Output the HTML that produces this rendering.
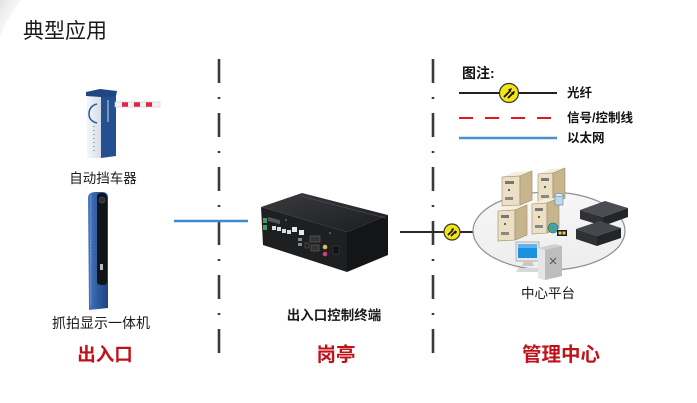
<!DOCTYPE html>
<html><head><meta charset="utf-8">
<style>
html,body{margin:0;padding:0;background:#fff;}
body{width:697px;height:403px;overflow:hidden;position:relative;}
svg{position:absolute;left:0;top:0;}
text{font-family:"Liberation Sans","Noto Sans CJK SC",sans-serif;}
</style></head>
<body>
<svg width="697" height="403" viewBox="0 0 697 403" xmlns="http://www.w3.org/2000/svg">
<defs>
  <linearGradient id="tl" x1="0" y1="0" x2="1" y2="1">
    <stop offset="0" stop-color="#e2e2e2"/>
    <stop offset="1" stop-color="#ffffff" stop-opacity="0"/>
  </linearGradient>
  <linearGradient id="devTop" x1="0" y1="0" x2="1" y2="1">
    <stop offset="0" stop-color="#3a3b3e"/>
    <stop offset="1" stop-color="#1c1d1f"/>
  </linearGradient>
  <linearGradient id="post" x1="0" y1="0" x2="1" y2="0">
    <stop offset="0" stop-color="#4a78bf"/>
    <stop offset="0.5" stop-color="#2d5aa0"/>
    <stop offset="1" stop-color="#1f4580"/>
  </linearGradient>
  <linearGradient id="gateFront" x1="0" y1="0" x2="1" y2="0">
    <stop offset="0" stop-color="#f4f6f9"/>
    <stop offset="1" stop-color="#d7dee8"/>
  </linearGradient>
  <linearGradient id="ell" x1="0" y1="0" x2="0" y2="1">
    <stop offset="0" stop-color="#f7f7f7"/>
    <stop offset="1" stop-color="#ededed"/>
  </linearGradient>
</defs>

<!-- faint top-left swoosh -->
<path d="M0,0 L22,0 Q6,18 0,38 Z" fill="url(#tl)"/>

<!-- title -->
<text x="23" y="38" font-size="21" fill="#1a1a1a">典型应用</text>

<!-- dash-dot separators -->
<line x1="219" y1="59" x2="219" y2="356" stroke="#3a3a3a" stroke-width="2.6" stroke-dasharray="24 14 2 14"/>
<line x1="433" y1="59" x2="433" y2="356" stroke="#3a3a3a" stroke-width="2.6" stroke-dasharray="24 14 2 14"/>

<!-- blue ethernet line -->
<line x1="174" y1="221" x2="248" y2="221" stroke="#3d8ccf" stroke-width="2.6"/>

<!-- fiber line -->
<line x1="400" y1="232" x2="474" y2="232" stroke="#2a2a2a" stroke-width="2"/>

<!-- ========== Barrier gate ========== -->
<g>
  <rect x="87" y="95" width="14" height="63" fill="url(#gateFront)"/>
  <polygon points="101,94 116,92 116,156 101,158" fill="#24508f"/>
  <polygon points="86,92 100,89 117,91 116,96 101,97 86,96" fill="#1d4682"/>
  <path d="M97,104 Q89,106 89,114 Q89,121 97,123" fill="none" stroke="#2d5aa0" stroke-width="1.5"/>
  <line x1="94" y1="126" x2="94" y2="152" stroke="#5a6f90" stroke-width="1" stroke-dasharray="1 3"/>
  <line x1="108" y1="100" x2="108" y2="122" stroke="#c9d6ea" stroke-width="1"/>
  <rect x="115" y="102" width="45" height="5" fill="#f2f2f2" stroke="#c8c8c8" stroke-width="0.6"/>
  <rect x="122" y="102.3" width="6" height="4.4" fill="#e0244a"/>
  <rect x="134" y="102.3" width="6" height="4.4" fill="#e0244a"/>
  <rect x="146" y="102.3" width="6" height="4.4" fill="#e0244a"/>
</g>
<text x="103" y="183" font-size="13.5" fill="#1a1a1a" text-anchor="middle">自动挡车器</text>

<!-- ========== Camera post ========== -->
<g>
  <path d="M88,198 Q88,192 96,192 L102,192 Q108,192 108,198 L108,308 L89,310 Z" fill="url(#post)"/>
  <path d="M97,197 Q97,193 102,193 Q107,193 107,198 L107,282 Q107,285 102,285 Q97,285 97,282 Z" fill="#111418"/>
  <circle cx="102" cy="200" r="3" fill="#2a2e36" stroke="#555" stroke-width="0.6"/>
  <rect x="100" y="264" width="3" height="6" fill="#bbb"/>
  <line x1="91" y1="240" x2="91" y2="262" stroke="#9fb7dc" stroke-width="0.8" stroke-dasharray="1 2"/>
  <rect x="90" y="195" width="1.4" height="110" fill="#6e98d6" opacity="0.6"/>
</g>
<text x="101" y="328" font-size="14" fill="#1a1a1a" text-anchor="middle">抓拍显示一体机</text>

<!-- ========== Control terminal device ========== -->
<g>
  <polygon points="261,207 302,193 388,215 347,232" fill="url(#devTop)"/>
  <polygon points="261,207 347,232 347,272 263,245" fill="#1e1f21"/>
  <polygon points="347,232 388,215 388,255 347,272" fill="#141516"/>
  <line x1="300" y1="196" x2="386" y2="218" stroke="#4a4b4e" stroke-width="0.8"/>
  <!-- ports -->
  <rect x="263" y="218" width="4" height="5" fill="#3fa060"/>
  <rect x="263" y="225" width="4" height="5" fill="#3fa060"/>
  <rect x="268" y="216" width="12" height="4" fill="#555" transform="skewY(16) translate(0,-76)"/>
  <rect x="272" y="226" width="4" height="4" fill="#ddd"/>
  <rect x="277" y="227" width="4" height="4" fill="#ddd"/>
  <rect x="282" y="229" width="4" height="4" fill="#ddd"/>
  <rect x="287" y="230" width="4" height="4" fill="#ddd"/>
  <rect x="292" y="227" width="5" height="5" fill="#e8e8e8"/>
  <rect x="299" y="230" width="5" height="5" fill="#e8e8e8"/>
  <rect x="298" y="238" width="4" height="3" fill="#888"/>
  <rect x="298" y="243" width="4" height="3" fill="#888"/>
  <rect x="310" y="236" width="10" height="6" fill="#333" stroke="#666" stroke-width="0.6"/>
  <rect x="311" y="245" width="8" height="6" fill="#333" stroke="#666" stroke-width="0.6"/>
  <rect x="305" y="243" width="4" height="5" fill="#222" stroke="#666" stroke-width="0.5"/>
  <circle cx="325" cy="247" r="2.3" fill="#c8c850"/>
  <circle cx="325" cy="254" r="2.3" fill="#d04080"/>
  <rect x="333" y="246" width="6" height="8" fill="#111" stroke="#444" stroke-width="0.5"/>
  <circle cx="286" cy="220" r="0.9" fill="#777"/>
  <circle cx="330" cy="233" r="0.9" fill="#777"/>
</g>
<text x="334" y="320" font-size="13.5" font-weight="bold" fill="#1a1a1a" text-anchor="middle">出入口控制终端</text>

<!-- ========== fiber symbol on line ========== -->
<g transform="translate(452,232)">
  <circle r="8" fill="#f2e415" stroke="#333" stroke-width="1.2"/>
  <path d="M-4,3 L1,-2 M-1,4 L4,-1" stroke="#111" stroke-width="1.6"/>
  <path d="M2,-4 L-1,-3 L1,-1 Z M5,-1 L2,0 L4,2 Z" fill="#111"/>
</g>

<!-- ========== Center platform ========== -->
<ellipse cx="549" cy="231" rx="76" ry="39" fill="url(#ell)" stroke="#8f8f8f" stroke-width="1.2"/>

<!-- server A -->
<g>
  <polygon points="502,177 520,176 532,171 514,172" fill="#f5eedc"/>
  <polygon points="502,177 520,176 520,205 502,206" fill="#ebe0c4" stroke="#9c8c6a" stroke-width="0.6"/>
  <polygon points="520,176 532,171 532,200 520,205" fill="#c7b58d" stroke="#9c8c6a" stroke-width="0.6"/>
  <rect x="505" y="181" width="9" height="3" fill="#777"/>
  <circle cx="509" cy="190" r="1.1" fill="#555"/>
  <rect x="505" y="197" width="8" height="3" fill="#888"/>
</g>
<!-- server B -->
<g>
  <polygon points="538,174 553,173 565,168 550,169" fill="#f5eedc"/>
  <polygon points="538,174 553,173 553,203 538,204" fill="#ebe0c4" stroke="#9c8c6a" stroke-width="0.6"/>
  <polygon points="553,173 565,168 565,198 553,203" fill="#c7b58d" stroke="#9c8c6a" stroke-width="0.6"/>
  <rect x="541" y="178" width="8" height="3" fill="#777"/>
  <circle cx="545" cy="187" r="1.1" fill="#555"/>
  <rect x="541" y="195" width="8" height="3" fill="#888"/>
</g>
<!-- server C -->
<g>
  <polygon points="498,211 515,210 527,205 510,206" fill="#f5eedc"/>
  <polygon points="498,211 515,210 515,240 498,241" fill="#ebe0c4" stroke="#9c8c6a" stroke-width="0.6"/>
  <polygon points="515,210 527,205 527,235 515,240" fill="#c7b58d" stroke="#9c8c6a" stroke-width="0.6"/>
  <rect x="501" y="215" width="8" height="3" fill="#777"/>
  <circle cx="505" cy="224" r="1.1" fill="#555"/>
  <rect x="501" y="232" width="8" height="3" fill="#888"/>
</g>
<!-- server D -->
<g>
  <polygon points="532,204 547,203 559,198 544,199" fill="#f5eedc"/>
  <polygon points="532,204 547,203 547,233 532,234" fill="#ebe0c4" stroke="#9c8c6a" stroke-width="0.6"/>
  <polygon points="547,203 559,198 559,228 547,233" fill="#c7b58d" stroke="#9c8c6a" stroke-width="0.6"/>
  <rect x="535" y="208" width="8" height="3" fill="#777"/>
  <circle cx="539" cy="217" r="1.1" fill="#555"/>
  <rect x="535" y="225" width="8" height="3" fill="#888"/>
</g>
<!-- database cylinder -->
<g>
  <rect x="555" y="195" width="8" height="10" fill="#bcd8ee" stroke="#5f87a8" stroke-width="0.6"/>
  <ellipse cx="559" cy="195" rx="4" ry="1.6" fill="#dcecf8" stroke="#5f87a8" stroke-width="0.6"/>
</g>
<!-- globe + card -->
<circle cx="553" cy="228" r="5" fill="#3f9fd8" stroke="#2a6b3a" stroke-width="0.6"/>
<path d="M549,226 Q552,224 554,227 Q556,230 553,232" fill="#4caa4a"/>
<rect x="557" y="230" width="10" height="6" fill="#1c1c1c"/>
<rect x="558.5" y="231.5" width="3" height="3" fill="#e6d25a"/>
<rect x="562.5" y="231.5" width="3" height="3" fill="#e6d25a"/>

<!-- NVR boxes -->
<g>
  <polygon points="580,210 605,201 628,208 603,217" fill="#4a4d52"/>
  <polygon points="580,210 603,217 603,226 580,219" fill="#2f3135"/>
  <polygon points="603,217 628,208 628,217 603,226" fill="#232528"/>
  <polygon points="576,229 600,221 621,228 597,236" fill="#44474c"/>
  <polygon points="576,229 597,236 597,246 576,239" fill="#2f3135"/>
  <polygon points="597,236 621,228 621,238 597,246" fill="#232528"/>
</g>

<!-- PC -->
<g>
  <rect x="516" y="242" width="23" height="19" fill="#e8e8e8" stroke="#9a9a9a" stroke-width="0.7"/>
  <rect x="518" y="244" width="19" height="14" fill="#1e90e0"/>
  <rect x="518" y="244" width="19" height="4" fill="#5fb4ee"/>
  <polygon points="524,261 532,261 534,266 522,266" fill="#c8c8c8"/>
  <polygon points="518,268 538,268 540,272 516,272" fill="#d8d8d8"/>
  <polygon points="538,248 555,244 562,246 562,276 545,280 538,278" fill="#d0d0d0"/>
  <polygon points="545,250 562,246 562,276 545,280" fill="#bdbdbd"/>
  <polygon points="538,248 545,250 545,280 538,278" fill="#e6e6e6"/>
  <path d="M550,258 L556,264 M556,258 L550,264" stroke="#555" stroke-width="1"/>
</g>
<text x="548" y="298" font-size="13.5" fill="#1a1a1a" text-anchor="middle">中心平台</text>

<!-- ========== Legend ========== -->
<text x="462" y="78" font-size="14" font-weight="bold" fill="#111">图注:</text>
<line x1="459" y1="93" x2="557" y2="93" stroke="#222" stroke-width="2"/>
<g transform="translate(509,93)">
  <circle r="9.5" fill="#f2e415" stroke="#333" stroke-width="1.2"/>
  <path d="M-5,4 L1,-2 M-1,5 L5,-1" stroke="#111" stroke-width="1.8"/>
  <path d="M3,-5 L-1,-3.5 L1.5,-1 Z M6,-2 L2,-0.5 L4.5,2 Z" fill="#111"/>
</g>
<text x="567" y="97" font-size="12.5" font-weight="bold" fill="#111">光纤</text>
<line x1="459" y1="118" x2="557" y2="118" stroke="#e8141c" stroke-width="2" stroke-dasharray="14 12"/>
<text x="567" y="122" font-size="12.5" font-weight="bold" fill="#111">信号/控制线</text>
<line x1="459" y1="138" x2="557" y2="138" stroke="#4a90cf" stroke-width="2.6"/>
<text x="567" y="142" font-size="12.5" font-weight="bold" fill="#111">以太网</text>

<!-- ========== Section labels ========== -->
<text x="105" y="361" font-size="18.5" font-weight="bold" fill="#c0101a" text-anchor="middle">出入口</text>
<text x="336" y="361" font-size="19.5" font-weight="bold" fill="#c0101a" text-anchor="middle">岗亭</text>
<text x="561" y="361" font-size="19.5" font-weight="bold" fill="#c0101a" text-anchor="middle">管理中心</text>
</svg>
</body></html>
